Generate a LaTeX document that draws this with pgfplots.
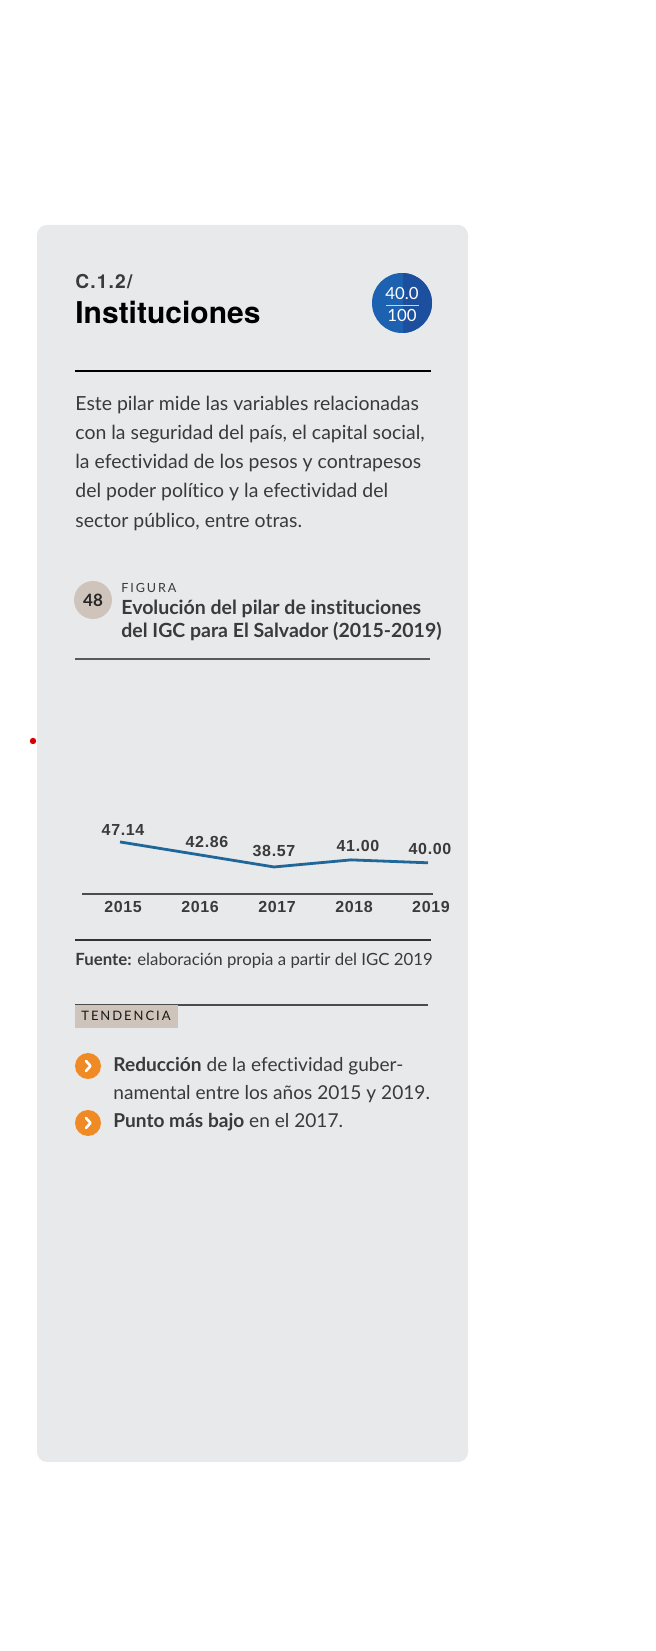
\documentclass[border=0pt]{standalone}
\usepackage{pgfplots}
\pgfplotsset{compat=1.18}
\usepackage{pgfplotstable}
\usepackage{fontspec}
\setmainfont{Lato}[Ligatures=NoCommon]
\newfontfamily\heros{TeX Gyre Heros}
\newfontfamily\herossp[LetterSpace=6]{TeX Gyre Heros}
\newfontfamily\numfont[LetterSpace=4]{Liberation Sans}
\newfontfamily\spaced[LetterSpace=15]{Lato}
\definecolor{cardgray}{HTML}{E8E9EB}
\definecolor{txt}{HTML}{3A3A3A}
\definecolor{beige}{HTML}{CEC4BB}
\definecolor{orng}{HTML}{F08A24}
\definecolor{lineblue}{HTML}{1F6699}
\definecolor{badgeL}{HTML}{1C62B0}
\definecolor{badgeR}{HTML}{1D4F9F}

\pgfplotstableread{
year val dx dy
2015 47.14 1.5 3.3
2016 42.86 5 3.5
2017 38.57 0 5
2018 41.00 3.5 4
2019 40.00 1 4
}\datatable

\begin{document}
\begin{tikzpicture}
\fill[white] (0,0) rectangle (328pt,825.5pt);
\begin{scope}[yshift=825.5pt,x=0.5pt,y=-0.5pt]
\fill[cardgray, rounded corners=5pt] (37,225) rectangle (468,1462);
\fill[red!85!black] (33,741) circle (1.6pt);
% header
\node[anchor=base west, inner sep=0, font=\herossp\bfseries\fontsize{9.6}{10}\selectfont, text=txt] at (75,289) {C.1.2/};
\node[anchor=base west, inner sep=0, font=\heros\bfseries\fontsize{15}{17}\selectfont, text=black] at (75,324) {Instituciones};
% badge
\fill[badgeL] (402,303) circle (15pt);
\begin{scope}
\clip (402,303) circle (15pt);
\fill[badgeR] (403,270) rectangle (440,340);
\end{scope}
\draw[white!75!badgeL, line width=0.5pt] (386,306) -- (419,306);
\node[anchor=base, inner sep=0, font=\fontsize{8.4}{9}\selectfont, text=white] at (402,300) {40.0};
\node[anchor=base, inner sep=0, font=\fontsize{8.4}{9}\selectfont, text=white] at (402,322) {100};
\draw[black, line width=1pt] (75,371) -- (431,371);
% body text
\begin{scope}[every node/.style={anchor=base west, inner sep=0, font=\fontsize{9.72}{10}\selectfont, text=txt}]
\node at (75,411) {Este pilar mide las variables relacionadas};
\node at (75,440) {con la seguridad del país, el capital social,};
\node at (75,469) {la efectividad de los pesos y contrapesos};
\node at (75,498) {del poder político y la efectividad del};
\node at (75,528) {sector público, entre otras.};
\end{scope}
% figure title
\fill[beige] (93,600) circle (9.5pt);
\node[anchor=center, inner sep=0, font=\bfseries\fontsize{8.5}{9}\selectfont, text=black!85] at (93,600) {48};
\node[anchor=base west, inner sep=0, font=\spaced\fontsize{6.3}{7}\selectfont, text=txt] at (121,593) {FIGURA};
\node[anchor=base west, inner sep=0, font=\bfseries\fontsize{9.75}{10}\selectfont, text=txt] at (121,615) {Evolución del pilar de instituciones};
\node[anchor=base west, inner sep=0, font=\bfseries\fontsize{9.75}{10}\selectfont, text=txt] at (121,638) {del IGC para El Salvador (2015-2019)};
\draw[black!65, line width=0.8pt] (75,659) -- (430,659);
% source
\draw[black!80, line width=0.7pt] (75,940) -- (431,940);
\node[anchor=base west, inner sep=0, font=\fontsize{8.4}{9}\selectfont, text=txt] at (75,966) {\textbf{Fuente:} elaboración propia a partir del IGC 2019};
% tendencia
\draw[black!70, line width=0.7pt] (75,1005) -- (428,1005);
\fill[beige] (75,1005.5) rectangle (178,1028);
\node[anchor=base west, inner sep=0, font=\spaced\fontsize{6.5}{7}\selectfont, text=black!90] at (81,1021) {TENDENCIA};
\foreach \yy in {1066,1123}{
  \fill[orng] (88,\yy) circle (6.5pt);
  \draw[white, line width=1.3pt, line cap=round, line join=round] (86,\yy-5) -- (90.5,\yy) -- (86,\yy+5);
}
\begin{scope}[every node/.style={anchor=base west, inner sep=0, font=\fontsize{9.55}{10}\selectfont, text=txt}]
\node at (113,1072) {\textbf{Reducción} de la efectividad guber-};
\node at (113,1100) {namental entre los años 2015 y 2019.};
\node at (113,1128) {\textbf{Punto más bajo} en el 2017.};
\end{scope}
\end{scope}
% chart
\begin{axis}[
  at={(41pt,378.5pt)}, anchor=south west,
  scale only axis, width=175.5pt, height=30.2pt,
  xmin=2014.506, xmax=2019.065, ymin=29.32, ymax=50,
  axis x line*=bottom, axis y line=none,
  x axis line style={black!70, line width=0.7pt, -},
  xtick={2015,2016,2017,2018,2019},
  xticklabels={2015,2016,2017,2018,2019},
  major tick length=0pt,
  xticklabel style={anchor=base, yshift=-9.5pt, xshift=1.5pt, font=\numfont\bfseries\fontsize{8}{9}\selectfont, text=txt},
  clip=false,
  nodes near coords,
  nodes near coords style={anchor=base, inner sep=0, font=\numfont\bfseries\fontsize{8}{9}\selectfont, text=txt,
     /pgf/number format/fixed, /pgf/number format/fixed zerofill, /pgf/number format/precision=2, /pgf/number format/assume math mode=true},
  visualization depends on={\thisrow{dx} \as \dx},
  visualization depends on={\thisrow{dy} \as \dy},
  every node near coord/.append style={/tikz/xshift=\dx pt, /tikz/yshift=\dy pt},
]
\addplot[lineblue, line width=1.4pt, mark=none] table[x=year, y=val] {\datatable};
\end{axis}
\end{tikzpicture}
\end{document}
